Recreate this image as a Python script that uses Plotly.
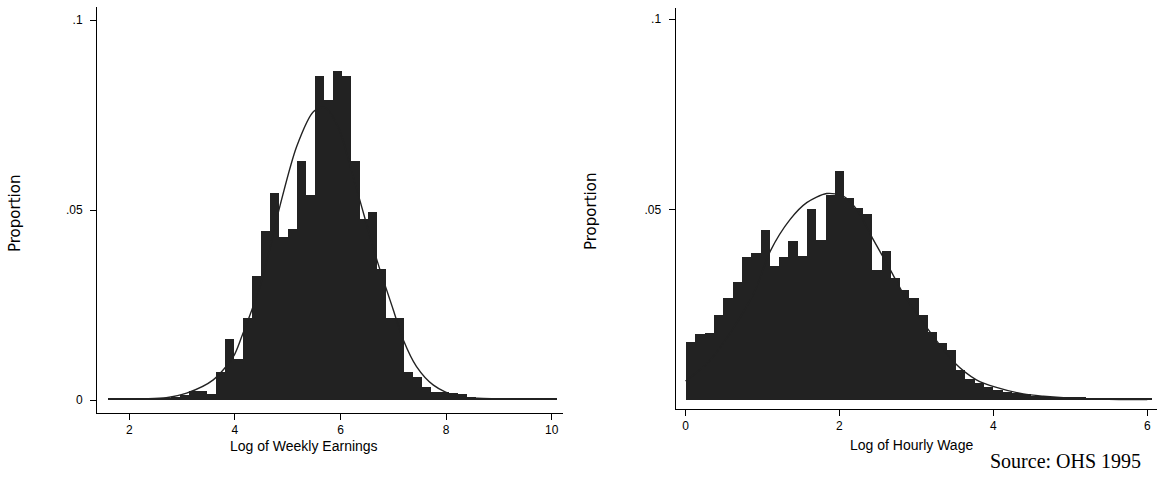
import numpy as np
import plotly.graph_objects as go

# ---------------- data: left panel (Log of Weekly Earnings) ----------------
weekly_bin_start = 1.6
weekly_bin_width = 0.17
weekly_props = [
    0.0004, 0.0004, 0.0004, 0.0004, 0.0004, 0.0004, 0.0006, 0.0008, 0.0012, 0.0024,
    0.0024, 0.0016, 0.0074, 0.0160, 0.0107, 0.0215, 0.0326, 0.0445, 0.0544, 0.0430,
    0.0450, 0.0629, 0.0540, 0.0853, 0.0790, 0.0866, 0.0853, 0.0629, 0.0477, 0.0495,
    0.0346, 0.0215, 0.0215, 0.0074, 0.0060, 0.0034, 0.0021, 0.0020, 0.0018, 0.0016,
    0.0007, 0.0004, 0.0003, 0.0003, 0.0003, 0.0003, 0.0003, 0.0003, 0.0003, 0.0003,
]
weekly_curve_x = [1.6, 2.3, 2.7, 3.085, 3.59, 3.97, 4.13, 4.5, 4.85, 5.17, 5.49, 5.7,
                  5.95, 6.31, 6.69, 7.0, 7.19, 7.44, 7.76, 8.2, 8.7, 9.3, 10.0]
weekly_curve_y = [0.0002, 0.0003, 0.0006, 0.0018, 0.0053, 0.0114, 0.0167, 0.0310, 0.0509,
                  0.0667, 0.0759, 0.0770, 0.0720, 0.0553, 0.0368, 0.0237, 0.0158, 0.0088,
                  0.0039, 0.0009, 0.0004, 0.0003, 0.0002]
weekly_xticks = [2, 4, 6, 8, 10]
weekly_yticks = [0, 0.05, 0.1]
weekly_yticklabels = ["0", ".05", ".1"]

# ---------------- data: right panel (Log of Hourly Wage) ----------------
hourly_bin_start = 0.0
hourly_bin_width = 0.121
hourly_props = [
    0.0153, 0.0172, 0.0177, 0.0224, 0.0268, 0.0310, 0.0376, 0.0385, 0.0446, 0.0353,
    0.0376, 0.0417, 0.0378, 0.0502, 0.0419, 0.0539, 0.0601, 0.0531, 0.0504, 0.0487,
    0.0342, 0.0390, 0.0320, 0.0290, 0.0268, 0.0224, 0.0178, 0.0150, 0.0130, 0.0080,
    0.0054, 0.0045, 0.0033, 0.0027, 0.0022, 0.0018, 0.0015, 0.0011, 0.0010, 0.0008,
    0.0008, 0.0008, 0.0008, 0.0004, 0.0004, 0.0004, 0.0004, 0.0004, 0.0004, 0.0004,
]
hourly_curve_x = [0.0, 0.3, 0.6, 0.9, 1.1, 1.36, 1.575, 1.835, 2.05, 2.225, 2.44, 2.66,
                  2.85, 3.11, 3.48, 3.78, 4.04, 4.39, 4.65, 5.0, 5.5, 6.0]
hourly_curve_y = [0.0050, 0.0100, 0.0182, 0.0285, 0.0390, 0.0474, 0.0518, 0.0542, 0.0535,
                  0.0500, 0.0421, 0.0342, 0.0272, 0.0197, 0.0101, 0.0053, 0.0033, 0.0016,
                  0.0010, 0.0005, 0.0002, 0.0001]
hourly_xticks = [0, 2, 4, 6]
hourly_yticks = [0.05, 0.1]
hourly_yticklabels = [".05", ".1"]

# ---------------- figure ----------------
W, H = 1157, 487
INK = "#222222"
FONT = "Arial, Liberation Sans, sans-serif"


def fx(p):
    return p / W


def fy(p):
    return 1 - p / H


weekly_x = weekly_bin_start + weekly_bin_width * (np.arange(len(weekly_props)) + 0.5)
hourly_x = hourly_bin_start + hourly_bin_width * (np.arange(len(hourly_props)) + 0.5)

fig = go.Figure()
fig.add_trace(go.Bar(x=weekly_x, y=weekly_props, width=weekly_bin_width,
                     marker=dict(color=INK, line=dict(width=0)),
                     xaxis="x", yaxis="y", showlegend=False))
fig.add_trace(go.Scatter(x=weekly_curve_x, y=weekly_curve_y, mode="lines",
                         line=dict(color=INK, width=1.4, shape="spline", smoothing=0.8),
                         xaxis="x", yaxis="y", showlegend=False))
fig.add_trace(go.Bar(x=hourly_x, y=hourly_props, width=hourly_bin_width,
                     marker=dict(color=INK, line=dict(width=0)),
                     xaxis="x2", yaxis="y2", showlegend=False))
fig.add_trace(go.Scatter(x=hourly_curve_x, y=hourly_curve_y, mode="lines",
                         line=dict(color=INK, width=1.4, shape="spline", smoothing=0.8),
                         xaxis="x2", yaxis="y2", showlegend=False))

axis_common = dict(showline=True, linecolor="black", linewidth=1, showgrid=False,
                   zeroline=False, ticks="outside", ticklen=6, tickwidth=1,
                   tickcolor="black", tickfont=dict(family=FONT, size=12, color="black"))

# left panel axes: x line from px 97 to 563, y from 7 to 413
left_ppu = 3800.0
fig.update_layout(
    xaxis=dict(domain=[fx(97), fx(563)], range=[1.388, 10.214], tickvals=weekly_xticks,
               anchor="y", **axis_common),
    yaxis=dict(domain=[fy(413), fy(7)], range=[(400 - 413) / left_ppu, (400 - 7) / left_ppu],
               tickvals=weekly_yticks, ticktext=weekly_yticklabels, anchor="x",
               ticklabelstandoff=5, **axis_common),
)

right_ppu = 3810.0
fig.update_layout(
    xaxis2=dict(domain=[fx(675.5), 1.0], range=[-0.13, 6.127], tickvals=hourly_xticks,
                anchor="y2", **axis_common),
    yaxis2=dict(domain=[fy(409), fy(8)], range=[(400 - 409) / right_ppu, (400 - 8) / right_ppu],
                tickvals=hourly_yticks, ticktext=hourly_yticklabels, anchor="x2",
                ticklabelstandoff=5, **axis_common),
)

annotations = [
    dict(text="Proportion", x=fx(15), y=fy(214), textangle=-90,
         font=dict(family="DejaVu Sans", size=15, color="black")),
    dict(text="Proportion", x=fx(591), y=fy(212), textangle=-90,
         font=dict(family="DejaVu Sans", size=15, color="black")),
    dict(text="Log of Weekly Earnings", x=fx(303.5), y=fy(446),
         font=dict(family=FONT, size=14, color="black")),
    dict(text="Log of Hourly Wage", x=fx(911.5), y=fy(445),
         font=dict(family=FONT, size=14, color="black")),
    dict(text="Source: OHS 1995", x=fx(1065), y=fy(461),
         font=dict(family="Liberation Serif, Times New Roman, serif", size=20, color="black")),
]
for a in annotations:
    a.update(xref="paper", yref="paper", xanchor="center", yanchor="middle",
             showarrow=False)

fig.update_layout(
    width=W, height=H, autosize=False,
    margin=dict(l=0, r=0, t=0, b=0),
    paper_bgcolor="white", plot_bgcolor="white",
    bargap=0, barmode="overlay",
    annotations=annotations,
)

fig.write_html("out.html")
